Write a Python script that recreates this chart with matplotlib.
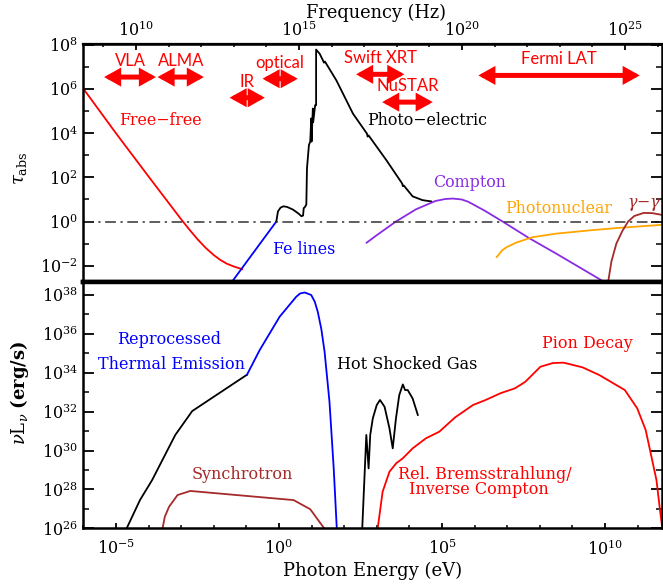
import numpy as np
import matplotlib
matplotlib.use("Agg")
import matplotlib.pyplot as plt

plt.rcParams['font.family'] = ['DejaVu Serif']
plt.rcParams['mathtext.fontset'] = 'dejavuserif'

H_EV = 4.135667e-15  # eV per Hz

# ---------------- data (log10 values) ----------------
# top panel: optical depth tau_abs vs photon energy
ff_logE = [-6.0, -5.0, -4.0, -3.0, -2.75, -2.5, -2.25, -2.0, -1.8, -1.6, -1.4, -1.13]
ff_logtau = [6.02, 4.0, 2.04, 0.1, -0.36, -0.80, -1.19, -1.52, -1.74, -1.91, -2.03, -2.16]

fe_logE = [-1.6, -0.08]
fe_logtau = [-3.05, 0.0]

pe_logE = [-0.08, -0.03, 0.05, 0.14, 0.25, 0.43, 0.6, 0.69, 0.74, 0.76, 0.79, 0.84,
           0.86, 0.92, 0.96, 0.99, 1.00, 1.04, 1.05, 1.11, 1.14, 1.14, 1.25, 1.35,
           1.38, 1.41, 1.76, 2.27, 2.70, 2.72, 2.75, 3.29, 3.78, 3.80, 3.83, 4.10,
           4.40, 4.67]
pe_logtau = [0.0, 0.46, 0.63, 0.69, 0.66, 0.54, 0.36, 0.24, 0.27, 0.61, 0.64, 0.77,
             2.41, 3.47, 3.62, 4.67, 3.62, 5.12, 4.5, 5.27, 5.27, 7.79, 7.6, 7.3,
             7.2, 7.25, 6.4, 4.89, 3.98, 3.85, 3.90, 2.79, 1.72, 1.60, 1.63, 1.14,
             0.97, 0.91]

co_logE = [2.69, 3.0, 3.59, 4.2, 4.8, 5.1, 5.33, 5.6, 5.8, 6.3, 6.86, 7.67, 8.5, 9.5, 9.97, 10.1]
co_logtau = [-0.96, -0.62, 0.0, 0.55, 0.93, 1.02, 1.04, 1.0, 0.9, 0.5, 0.0, -0.75, -1.45, -2.32, -2.73, -2.85]

pn_logE = [6.68, 6.85, 7.0, 7.27, 7.78, 8.5, 9.61, 10.5, 11.75]
pn_logtau = [-1.61, -1.3, -1.15, -0.96, -0.71, -0.55, -0.39, -0.28, -0.15]

gg_logE = [10.08, 10.2, 10.35, 10.53, 10.71, 10.9, 11.19, 11.45, 11.75]
gg_logtau = [-2.9, -1.8, -1.0, -0.44, 0.0, 0.25, 0.39, 0.38, 0.3]

# observing bands (log10 frequency in Hz)
band_names = ['VLA', 'ALMA', 'IR', 'optical', 'Swift XRT', 'NuSTAR', 'Fermi LAT']
band_lo_loghz = [9.02, 10.66, 12.87, 13.88, 16.75, 17.55, 20.50]
band_hi_loghz = [10.61, 12.08, 13.95, 14.96, 18.23, 19.10, 25.45]

# bottom panel: nu L_nu (erg/s) vs photon energy
th_lo_logE = [-4.75, -4.67, -4.26, -3.89, -3.18, -2.66, -0.98]
th_lo_logL = [25.7, 26.0, 27.46, 28.48, 30.8, 32.03, 33.9]

th_logE = [-0.98, -0.59, 0.02, 0.53, 0.65, 0.79, 0.99, 1.1, 1.19, 1.30, 1.40, 1.55, 1.68, 1.78]
th_logL = [33.9, 35.17, 36.88, 37.91, 38.08, 38.13, 38.0, 37.65, 37.14, 36.25, 35.08, 32.51, 29.08, 25.8]

sy_logE = [-3.57, -3.5, -3.37, -3.11, -2.72, 0.45, 0.96, 1.43]
sy_logL = [26.0, 26.6, 27.11, 27.71, 27.92, 27.45, 26.98, 25.9]

hs_logE = [2.55, 2.68, 2.75, 2.80, 2.88, 3.0, 3.10, 3.24, 3.39, 3.49, 3.59, 3.69,
           3.80, 3.87, 3.95, 4.10, 4.26]
hs_logL = [25.8, 30.8, 29.08, 30.8, 31.66, 32.34, 32.6, 32.25, 31.14, 30.11, 31.66,
           32.85, 33.4, 33.11, 33.11, 32.68, 31.83]

pi_logE = [3.0, 3.03, 3.18, 3.39, 3.60, 3.80, 4.10, 4.51, 4.92, 5.40, 5.95, 6.34,
           6.8, 7.24, 7.56, 8.02, 8.4, 8.73, 9.31, 9.83, 10.61, 10.99, 11.25,
           11.58, 11.70, 11.76]
pi_logL = [25.8, 26.0, 27.88, 28.91, 29.35, 29.6, 30.11, 30.63, 30.97, 31.7, 32.34,
           32.6, 32.95, 33.2, 33.54, 34.31, 34.5, 34.52, 34.28, 33.88, 33.11, 32.17,
           31.05, 28.48, 26.77, 26.0]

# ---------------- layout ----------------
band_levels = [6.545, 6.545, 5.61, 6.47, 6.67, 5.41, 6.62]  # log tau of arrows

RED = '#ff0000'
BLUE = '#0000ff'
PURPLE = '#8a2be2'
ORANGE = '#ffa500'
BROWN = '#a52a2a'

fig = plt.figure(figsize=(6.63, 5.86), dpi=100)
ax1 = fig.add_axes([0.1257, 0.5188, 0.8728, 0.4056])
ax2 = fig.add_axes([0.1257, 0.0985, 0.8728, 0.4203], sharex=ax1)

def p(a):
    return 10.0 ** np.asarray(a)

lw = 1.3
ax1.plot(p(ff_logE), p(ff_logtau), color=RED, lw=lw)
ax1.plot(p(fe_logE), p(fe_logtau), color=BLUE, lw=lw)
ax1.plot(p(pe_logE), p(pe_logtau), color='black', lw=lw)
ax1.plot(p(co_logE), p(co_logtau), color=PURPLE, lw=lw)
ax1.plot(p(pn_logE), p(pn_logtau), color=ORANGE, lw=lw)
ax1.plot(p(gg_logE), p(gg_logtau), color=BROWN, lw=lw)
ax1.axhline(1.0, color='#333333', lw=1.1, ls=(0, (7, 3, 1.5, 3)))

ax2.plot(p(th_lo_logE), p(th_lo_logL), color='black', lw=lw)
ax2.plot(p(th_logE), p(th_logL), color=BLUE, lw=lw)
ax2.plot(p(sy_logE), p(sy_logL), color=BROWN, lw=lw)
ax2.plot(p(hs_logE), p(hs_logL), color='black', lw=lw)
ax2.plot(p(pi_logE), p(pi_logL), color=RED, lw=lw)

for ax in (ax1, ax2):
    ax.set_xscale('log')
    ax.set_yscale('log')
ax1.set_xlim(10 ** -6.0, 10 ** 11.75)
ax1.set_ylim(10 ** -2.74, 10 ** 8.03)
ax2.set_ylim(1e26, 10 ** 38.67)

# band arrows
for name, lo, hi, lvl in zip(band_names, band_lo_loghz, band_hi_loghz, band_levels):
    e_lo = 10 ** lo * H_EV
    e_hi = 10 ** hi * H_EV
    y = 10 ** lvl
    ax1.annotate('', xy=(e_hi, y), xytext=(e_lo, y),
                 arrowprops=dict(arrowstyle='<|-|>,head_length=0.34,head_width=0.19',
                                 color=RED, lw=3.6, shrinkA=0, shrinkB=0,
                                 mutation_scale=20, joinstyle='miter'))
    xc = np.sqrt(e_lo * e_hi)
    ax1.annotate(name, xy=(xc, y), xytext=(0, 11.5), textcoords='offset points',
                 ha='center', va='center', color=RED, fontsize=12,
                 family=['Lato', 'DejaVu Sans'])

# curve labels
tfs = 11.4
ax1.text(10 ** -3.63, 10 ** 4.59, 'Free\u2212free', color=RED, fontsize=tfs, ha='center', va='center')
ax1.text(10 ** 4.55, 10 ** 4.59, 'Photo\u2212electric', color='black', fontsize=tfs, ha='center', va='center')
ax1.text(10 ** 5.85, 10 ** 1.78, 'Compton', color=PURPLE, fontsize=tfs, ha='center', va='center')
ax1.text(10 ** 8.59, 10 ** 0.61, 'Photonuclear', color=ORANGE, fontsize=tfs, ha='center', va='center')
ax1.text(10 ** 11.19, 10 ** 0.78, '$\\gamma$\u2212$\\gamma$', color=BROWN, fontsize=tfs, ha='center', va='center')
ax1.text(10 ** 0.77, 10 ** -1.26, 'Fe lines', color=BLUE, fontsize=tfs, ha='center', va='center')

bfs = 11.5
ax2.text(10 ** -3.38, 10 ** 35.72, 'Reprocessed', color=BLUE, fontsize=bfs, ha='center', va='center')
ax2.text(10 ** -3.31, 10 ** 34.40, 'Thermal Emission', color=BLUE, fontsize=bfs, ha='center', va='center')
ax2.text(10 ** 3.94, 10 ** 34.40, 'Hot Shocked Gas', color='black', fontsize=bfs, ha='center', va='center')
ax2.text(10 ** 9.45, 10 ** 35.48, 'Pion Decay', color=RED, fontsize=bfs, ha='center', va='center')
ax2.text(10 ** -1.11, 10 ** 28.79, 'Synchrotron', color=BROWN, fontsize=bfs, ha='center', va='center')
ax2.text(10 ** 6.30, 10 ** 28.79, 'Rel. Bremsstrahlung/', color=RED, fontsize=bfs, ha='center', va='center')
ax2.text(10 ** 6.14, 10 ** 27.97, 'Inverse Compton', color=RED, fontsize=bfs, ha='center', va='center')

# ---------------- ticks ----------------
tls = 11.5
xmaj = [1e-5, 1e0, 1e5, 1e10]
xmin_t = [10.0 ** k for k in range(-6, 12)]
for ax in (ax1, ax2):
    ax.set_xticks(xmaj)
    ax.set_xticks(xmin_t, minor=True)
ax2.set_xticklabels([r'$10^{-5}$', r'$10^{0}$', r'$10^{5}$', r'$10^{10}$'])
ax2.set_xticklabels([], minor=True)

ax1.set_yticks([10.0 ** k for k in (-2, 0, 2, 4, 6, 8)])
ax1.set_yticklabels([r'$10^{-2}$', r'$10^{0}$', r'$10^{2}$', r'$10^{4}$', r'$10^{6}$', r'$10^{8}$'])
ax1.set_yticks([10.0 ** k for k in (-1, 1, 3, 5, 7)], minor=True)
ax1.set_yticklabels([], minor=True)
ax2.set_yticks([10.0 ** k for k in (26, 28, 30, 32, 34, 36, 38)])
ax2.set_yticklabels([r'$10^{%d}$' % k for k in (26, 28, 30, 32, 34, 36, 38)])
ax2.set_yticks([10.0 ** k for k in (27, 29, 31, 33, 35, 37)], minor=True)
ax2.set_yticklabels([], minor=True)

for ax in (ax1, ax2):
    ax.tick_params(axis='y', which='major', direction='in', length=8, width=1.3,
                   left=True, right=True, labelsize=tls, pad=4)
    ax.tick_params(axis='y', which='minor', direction='in', length=4.5, width=1.1,
                   left=True, right=True)
ax1.tick_params(axis='x', which='both', bottom=False, top=False, labelbottom=False)
ax2.tick_params(axis='x', which='major', direction='in', length=3.5, width=1.3,
                top=False, labelsize=tls, pad=8)
ax2.tick_params(axis='x', which='minor', direction='in', length=2, width=1.1, top=False)

# frequency axis on top
sec = ax1.secondary_xaxis('top', functions=(lambda e: e / H_EV, lambda n: n * H_EV))
sec.set_xticks([1e10, 1e15, 1e20, 1e25])
sec.set_xticklabels([r'$10^{10}$', r'$10^{15}$', r'$10^{20}$', r'$10^{25}$'])
sec.set_xticks([10.0 ** k for k in range(9, 27)], minor=True)
sec.set_xticklabels([], minor=True)
sec.tick_params(axis='x', which='major', direction='in', length=4.5, width=1.3,
                labelsize=tls, pad=3)
sec.tick_params(axis='x', which='minor', direction='in', length=2, width=1.1)
sec.spines['top'].set_linewidth(1.6)
fig.text(376 / 663, 1 - 13 / 586, 'Frequency (Hz)', fontsize=12.8, ha='center', va='center')

for ax in (ax1, ax2):
    for s in ax.spines.values():
        s.set_linewidth(1.8)
ax1.spines['bottom'].set_linewidth(3.2)
ax2.spines['top'].set_linewidth(3.2)

ax2.set_xlabel('Photon Energy (eV)', fontsize=13, labelpad=2)
ax1.set_ylabel(r'$\tau_{\rm abs}$', fontsize=13)
ax2.set_ylabel(r'$\nu\mathrm{L}_\nu$ $\mathbf{(erg/s)}$', fontsize=13)
ax1.yaxis.set_label_coords(-0.094, 0.48)
ax2.yaxis.set_label_coords(-0.090, 0.55)

fig.savefig('out.png', dpi=100)
